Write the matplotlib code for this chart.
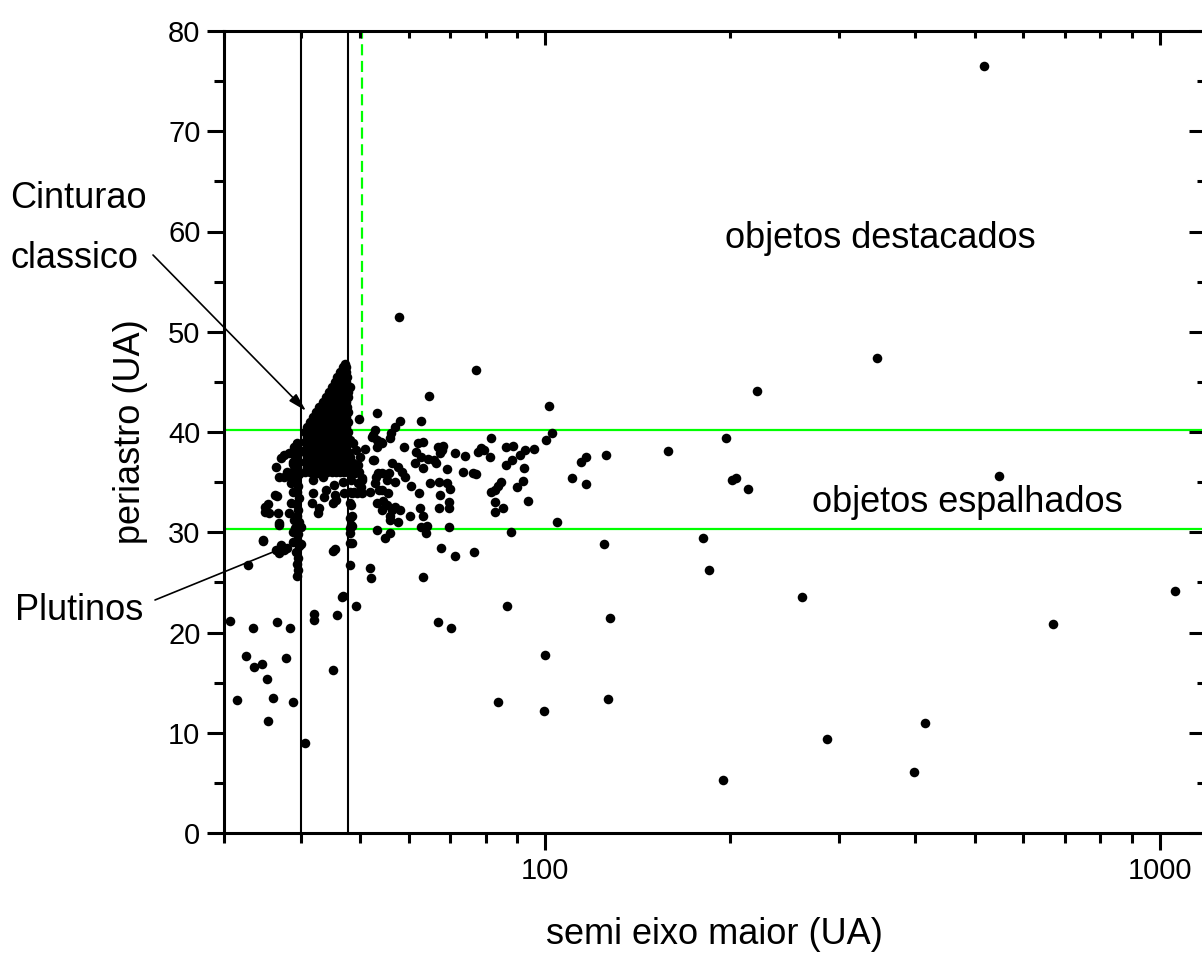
import numpy as np
import matplotlib.pyplot as plt
from matplotlib.ticker import LogLocator, MultipleLocator, FuncFormatter, NullFormatter

plt.rcParams['font.family'] = ['Liberation Sans', 'DejaVu Sans']

# semi-major axis a (UA), perihelion q (UA)
plutinos = [(39.4, 25.6), (39.6, 26.2), (39.4, 26.8), (39.6, 27.4), (39.3, 28.0),
            (39.7, 28.6), (39.4, 29.2), (39.6, 29.8), (39.2, 30.4), (39.7, 31.0),
            (39.4, 31.6), (39.6, 32.2), (39.3, 32.8), (39.7, 33.4), (39.4, 34.0),
            (39.6, 34.6), (39.3, 35.2), (39.7, 35.8), (39.4, 36.4), (39.6, 37.0),
            (39.3, 37.6), (39.7, 38.2), (39.5, 38.8), (38.9, 30.0), (40.1, 30.5),
            (38.8, 29.0), (40.0, 28.8), (39.0, 31.2), (38.8, 37.0), (39.0, 36.2),
            (38.6, 35.5), (39.2, 37.6), (38.9, 36.8)]

row_a = [40.7, 41.4, 42.1, 42.8, 43.5, 44.2, 44.9, 45.6, 46.3, 47.0, 47.7]
row_b = [41.0, 41.7, 42.4, 43.1, 43.8, 44.5, 45.2, 45.9, 46.6, 47.3]
classic_rows = {
    36.0: row_a, 36.5: row_b, 37.0: row_a, 37.5: row_b, 38.0: row_a,
    38.5: row_b, 39.0: row_a, 39.5: row_b, 40.0: row_a,
    40.5: [40.9, 41.7, 42.4, 43.1, 43.8, 44.5, 45.2, 45.9, 46.6, 47.3],
    41.0: [41.4, 42.1, 42.8, 43.5, 44.2, 44.9, 45.6, 46.3, 47.0, 47.7],
    41.5: [41.9, 42.4, 43.1, 43.8, 44.5, 45.2, 45.9, 46.6, 47.3],
    42.0: [42.4, 42.8, 43.5, 44.2, 44.9, 45.6, 46.3, 47.0, 47.7],
    42.5: [42.9, 43.4, 44.1, 44.8, 45.5, 46.2, 46.9, 47.5],
    43.0: [43.4, 43.9, 44.6, 45.3, 46.0, 46.7, 47.4],
    43.5: [43.9, 44.4, 45.1, 45.8, 46.5, 47.2, 47.8],
    44.0: [44.4, 44.9, 45.6, 46.3, 47.0, 47.7],
    44.5: [44.9, 45.4, 46.1, 46.8, 47.5],
    45.0: [45.4, 45.9, 46.6, 47.3],
    45.5: [45.9, 46.4, 47.1, 47.6],
    46.0: [46.4, 46.9, 47.4],
    46.5: [46.9, 47.3],
    46.8: [47.2],
}

inner = [(36.8, 30.7), (34.7, 29.1), (32.8, 26.7), (36.5, 28.2), (36.9, 27.9),
         (37.6, 28.2), (38.0, 28.4), (37.2, 28.7), (30.7, 21.1), (33.4, 20.4),
         (36.6, 21.0), (38.4, 20.4), (32.6, 17.7), (33.6, 16.6), (34.6, 16.9),
         (37.9, 17.5), (35.3, 15.4), (31.5, 13.3), (36.0, 13.5), (38.8, 13.1),
         (35.4, 11.2), (36.5, 36.5), (37.2, 37.4), (37.6, 37.7), (38.3, 37.9),
         (39.0, 38.5), (39.5, 38.9), (41.3, 38.7), (40.8, 37.9), (36.9, 35.5),
         (37.6, 35.5), (38.0, 36.0), (36.6, 33.6), (35.4, 32.8), (35.0, 32.0),
         (35.5, 31.9), (36.7, 31.9), (36.9, 30.9), (38.5, 32.9), (38.3, 31.9),
         (38.8, 34.0), (38.5, 34.9), (35.0, 32.5), (36.3, 33.7), (34.7, 29.2),
         (41.8, 33.9), (41.7, 32.9), (42.8, 32.4), (42.6, 31.9), (44.0, 34.2),
         (43.7, 33.5), (45.3, 34.7), (45.5, 33.7), (45.2, 32.9), (45.6, 33.2),
         (41.8, 35.2), (42.6, 35.9), (43.4, 35.5), (46.9, 35.0), (47.1, 33.9),
         (45.1, 28.1), (45.4, 28.3), (46.6, 23.5), (42.1, 21.8), (42.1, 21.2),
         (45.9, 21.7), (45.2, 16.3), (40.7, 8.95), (46.9, 23.6),
         (48.1, 44.5), (48.1, 39.2), (48.1, 37.5), (48.1, 34.0), (48.1, 32.9),
         (48.1, 31.4), (48.1, 30.4), (48.1, 29.9), (48.1, 28.9), (48.1, 26.7),
         (48.3, 35.2), (48.4, 33.9), (48.2, 32.7), (48.4, 31.6), (48.2, 30.7),
         (48.5, 28.9), (48.5, 30.6)]

scattered = [(57.9, 51.5), (77.0, 46.2), (64.7, 43.6), (53.2, 41.9), (49.7, 41.3),
             (58.0, 41.1), (56.9, 40.5), (62.8, 41.1), (52.8, 40.2), (52.5, 39.7),
             (54.2, 38.9), (53.2, 39.2), (56.1, 39.9), (55.9, 39.4), (58.9, 38.5),
             (62.1, 38.9), (63.3, 39.0), (61.7, 38.0), (62.8, 37.5), (64.4, 37.3),
             (61.3, 36.9), (63.3, 36.4), (67.0, 38.5), (67.8, 38.2), (68.2, 38.6),
             (67.4, 37.9), (66.5, 36.9), (66.0, 37.2), (71.2, 37.9), (74.1, 37.6),
             (69.3, 36.3), (73.5, 36.0), (76.3, 35.9), (77.0, 35.8), (77.7, 38.0),
             (78.5, 38.4), (79.5, 38.2), (81.7, 39.4), (81.4, 37.5), (86.2, 38.5),
             (88.6, 38.6), (86.2, 36.7), (88.4, 37.2), (90.9, 37.7), (92.8, 38.2),
             (95.9, 38.3), (92.2, 36.4), (92.0, 35.1), (90.0, 34.5), (93.7, 33.1),
             (84.6, 35.0), (83.8, 34.6), (82.7, 34.2), (81.7, 34.0), (82.7, 33.0),
             (85.2, 32.4), (82.7, 32.0), (69.2, 34.9), (69.9, 34.3), (69.8, 33.0),
             (69.8, 32.4), (67.4, 33.7), (67.2, 32.4), (67.2, 35.0), (64.9, 34.9),
             (62.3, 33.9), (62.5, 32.4), (63.2, 31.6), (60.4, 34.6), (60.3, 31.6),
             (59.1, 35.5), (58.4, 36.0), (57.6, 36.5), (56.4, 36.9), (57.0, 35.0),
             (55.6, 35.9), (55.2, 35.2), (53.5, 35.9), (52.8, 34.9), (52.5, 37.2),
             (54.2, 34.2), (55.4, 33.9), (51.9, 34.0), (53.2, 32.9), (54.5, 33.1),
             (55.2, 32.7), (56.2, 32.2), (57.0, 32.5), (58.0, 32.2), (54.2, 32.2),
             (55.9, 31.6), (55.8, 31.2), (57.6, 31.0), (53.2, 30.2), (55.9, 29.9),
             (54.9, 29.4), (62.8, 30.5), (63.9, 29.9), (64.1, 30.6), (69.8, 30.5),
             (67.6, 28.4), (71.2, 27.6), (76.6, 28.0), (87.9, 30.0), (51.9, 26.4),
             (52.1, 25.4), (63.3, 25.5), (86.6, 22.6), (49.2, 22.6), (66.8, 21.0),
             (70.2, 20.4), (83.7, 13.1), (50.8, 38.3), (50.0, 37.5), (50.3, 35.4),
             (49.5, 34.9), (48.7, 36.9), (48.4, 36.2), (49.0, 35.9), (49.3, 33.9),
             (48.9, 34.0), (49.5, 36.7), (49.8, 36.0), (50.4, 35.2), (50.1, 34.5),
             (50.3, 33.9), (49.2, 38.2), (48.6, 38.9), (52.3, 39.5), (53.3, 38.5),
             (54.0, 39.0), (52.6, 37.2), (53.1, 35.5), (54.3, 35.9), (53.7, 34.2),
             (101.4, 42.6), (102.4, 39.9), (100.4, 39.2), (104.3, 31.0), (100.0, 17.8),
             (99.4, 12.2), (518, 76.5), (346, 47.4), (221, 44.1), (196.5, 39.4),
             (158.5, 38.1), (125.6, 37.7), (116.4, 37.5), (114.2, 37.0), (110.4, 35.4),
             (116.4, 34.8), (201.5, 35.25), (204.2, 35.4), (213.4, 34.3), (548, 35.6),
             (124.5, 28.8), (180.3, 29.4), (184.5, 26.2), (261.5, 23.5), (1057, 24.1),
             (669, 20.8), (127.6, 21.4), (126.4, 13.4), (415.6, 11.0), (287, 9.4),
             (398.3, 6.1), (194.6, 5.3)]

classic = [(a, q) for q, row in classic_rows.items() for a in row]
points = np.array(plutinos + classic + inner + scattered)

W, H = 1202, 958
fig = plt.figure(figsize=(W / 100, H / 100), dpi=100)
ax = fig.add_axes([224 / W, 125 / H, 980 / W, 802 / H])

ax.axhline(40.15, color='#00ff00', lw=1.6, zorder=2)
ax.axhline(30.35, color='#00ff00', lw=1.6, zorder=2)
ax.plot([50.3, 50.3], [41.0, 80], color='#00ff00', lw=1.6, dashes=(5, 2.5), zorder=2)
ax.axvline(40.0, color='k', lw=1.5, zorder=2)
ax.axvline(47.8, color='k', lw=1.5, zorder=2)

ax.plot(points[:, 0], points[:, 1], 'o', color='k', ms=6.9, mew=0, zorder=3)

ax.set_xscale('log')
ax.set_xlim(30, 1180)
ax.set_ylim(0, 80)

ax.xaxis.set_major_locator(LogLocator(base=10))
ax.xaxis.set_minor_locator(LogLocator(base=10, subs=range(2, 10)))
ax.xaxis.set_major_formatter(FuncFormatter(lambda v, p: '%g' % v))
ax.xaxis.set_minor_formatter(NullFormatter())
ax.yaxis.set_major_locator(MultipleLocator(10))
ax.yaxis.set_minor_locator(MultipleLocator(5))

for s in ax.spines.values():
    s.set_linewidth(2.2)
ax.tick_params(which='major', direction='out', length=12, width=2.2, labelsize=21, pad=5)
ax.tick_params(which='minor', direction='out', length=7, width=2.2)

# inward ticks on top and right
axr = ax.twinx()
axr.set_ylim(0, 80)
axr.yaxis.set_major_locator(MultipleLocator(10))
axr.yaxis.set_minor_locator(MultipleLocator(5))
axr.tick_params(which='major', direction='in', length=11, width=2.2, labelright=False)
axr.tick_params(which='minor', direction='in', length=5, width=2.2)
axt = ax.twiny()
axt.set_xscale('log')
axt.set_xlim(30, 1180)
axt.xaxis.set_major_locator(LogLocator(base=10))
axt.xaxis.set_minor_locator(LogLocator(base=10, subs=range(2, 10)))
axt.tick_params(which='major', direction='in', length=10, width=2.2, labeltop=False)
axt.tick_params(which='minor', direction='in', length=5, width=2.2)
for a2 in (axr, axt):
    for s in a2.spines.values():
        s.set_visible(False)

fs = 26
ax.text(196, 58.35, 'objetos destacados', fontsize=fs, ha='left', va='baseline')
ax.text(272, 32.0, 'objetos espalhados', fontsize=fs, ha='left', va='baseline')

fig.text(714 / W, 1 - 935 / H, 'semi eixo maior (UA)', fontsize=fs, ha='center', va='center')
fig.text(130 / W, 1 - 432 / H, 'periastro (UA)', fontsize=fs, rotation=90, ha='center', va='center')

fig.text(10 / W, 1 - 208 / H, 'Cinturao', fontsize=fs, ha='left', va='baseline')
fig.text(10 / W, 1 - 268 / H, 'classico', fontsize=fs, ha='left', va='baseline')
fig.text(15 / W, 1 - 620 / H, 'Plutinos', fontsize=fs, ha='left', va='baseline')

ax.annotate('', xy=(40.8, 42.1), xycoords='data',
            xytext=(153, H - 255), textcoords='figure pixels',
            arrowprops=dict(arrowstyle='-|>,head_length=1.1,head_width=0.3',
                            color='k', lw=1.2, shrinkA=0, shrinkB=0),
            annotation_clip=False)
ax.annotate('', xy=(38.0, 28.6), xycoords='data',
            xytext=(155, H - 600), textcoords='figure pixels',
            arrowprops=dict(arrowstyle='-', color='k', lw=1.2, shrinkA=0, shrinkB=0),
            annotation_clip=False)

fig.savefig('out.png', dpi=100)
